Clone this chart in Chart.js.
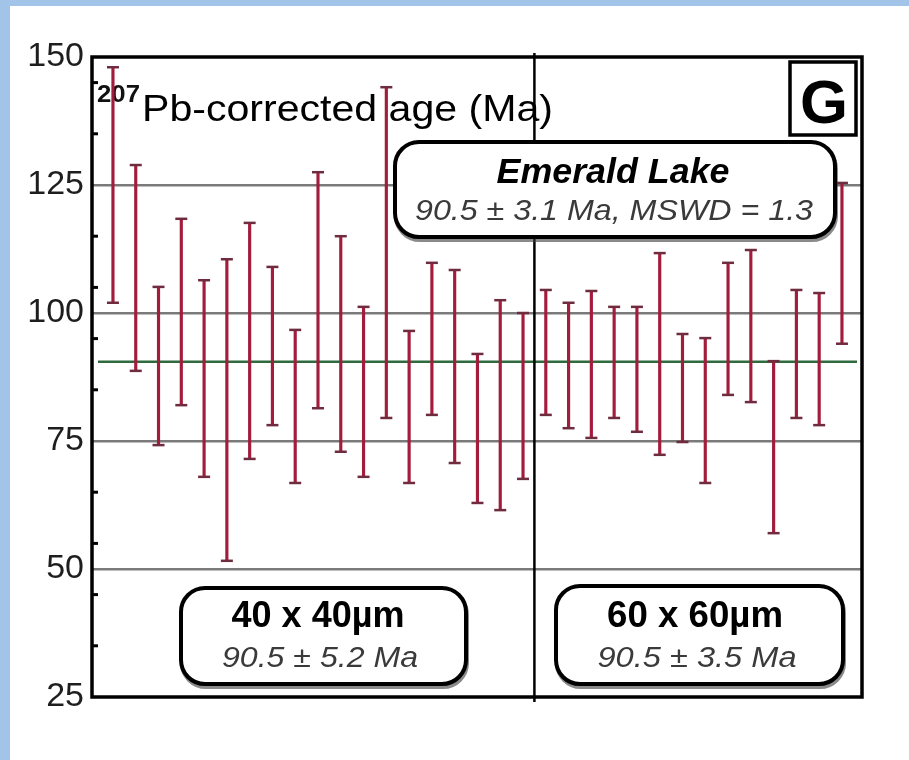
<!DOCTYPE html>
<html>
<head>
<meta charset="utf-8">
<title>207Pb-corrected age - Emerald Lake</title>
<script src="https://cdn.jsdelivr.net/npm/chart.js@4.4.1/dist/chart.umd.min.js"></script>
<style>
  html, body { margin: 0; padding: 0; background: #fff; }
  #age-chart { display: block; }
</style>
</head>
<body>
<canvas id="age-chart" width="909" height="760"></canvas>
<script>
(function() {
  'use strict';

  // Spot number along the x axis
  const spots = [1, 2, 3, 4, 5, 6, 7, 8, 9, 10, 11, 12, 13, 14, 15, 16, 17,
    18, 19, 20, 21, 22, 23, 24, 25, 26, 27, 28, 29, 30, 31, 32, 33];

  // Upper / lower end of each 2-sigma error bar (Ma)
  const ageHigh = [148.0, 128.9, 105.1, 118.4, 106.4, 110.5, 117.6, 109.0, 96.7,
    127.5, 115.0, 101.2, 144.1, 96.5, 109.8, 108.4, 92.0, 102.5, 100.0,
    104.5, 102.0, 104.3, 101.2, 101.2, 111.7, 95.9, 95.1, 109.8, 112.3,
    90.6, 104.5, 103.9, 125.4];
  const ageLow = [102.0, 88.7, 74.2, 82.0, 68.0, 51.6, 71.5, 78.1, 66.8,
    81.4, 72.9, 68.0, 79.5, 66.8, 80.1, 70.7, 62.9, 61.5, 67.6,
    80.1, 77.5, 75.6, 79.5, 76.8, 72.3, 74.8, 66.8, 84.0, 82.6,
    57.0, 79.5, 78.1, 94.0];

  // Axis ticks
  const yTicks = [25, 50, 75, 100, 125, 150];
  const gridValues = [50, 75, 100, 125];
  const minorTicks = [35, 45, 55, 65, 85, 95, 105, 115, 135, 145];

  // Weighted mean and the split between the two spot sizes
  const meanAge = 90.5;
  const splitAt = 19.5;

  // Text
  const titleSup = '207';
  const titleText = 'Pb-corrected age (Ma)';
  const panelLetter = 'G';
  const siteName = 'Emerald Lake';
  const siteAge = '90.5 \u00b1 3.1 Ma, MSWD = 1.3';
  const smallSpot = '40 x 40\u00b5m';
  const smallAge = '90.5 \u00b1 5.2 Ma';
  const largeSpot = '60 x 60\u00b5m';
  const largeAge = '90.5 \u00b1 3.5 Ma';

  const FONT = '"Liberation Sans", Arial, Helvetica, sans-serif';
  const barColor = '#a31c3c';
  const capColor = '#6e2c3e';

  /**
   * Draw text stretched/squeezed to a given width
   */
  function fitText(ctx, text, x, y, font, width, align, color) {
    ctx.save();
    ctx.font = font;
    ctx.fillStyle = color || '#000';
    ctx.textAlign = align || 'center';
    ctx.textBaseline = 'alphabetic';
    const w = ctx.measureText(text).width;
    ctx.translate(x, y);
    ctx.scale(width / w, 1);
    ctx.fillText(text, 0, 0);
    ctx.restore();
  }

  function roundBox(ctx, x, y, w, h, r) {
    ctx.save();
    // soft shadow along the bottom edge
    ctx.beginPath();
    ctx.roundRect(x + 1, y + 3, w, h, r);
    ctx.strokeStyle = 'rgba(60, 60, 60, 0.6)';
    ctx.lineWidth = 4;
    ctx.stroke();
    ctx.beginPath();
    ctx.roundRect(x, y, w, h, r);
    ctx.fillStyle = '#fff';
    ctx.fill();
    ctx.strokeStyle = '#000';
    ctx.lineWidth = 4;
    ctx.stroke();
    ctx.restore();
  }

  const decorPlugin = {
    id: 'decor',
    beforeDraw(chart) {
      const ctx = chart.ctx;
      ctx.save();
      ctx.fillStyle = '#fff';
      ctx.fillRect(0, 0, chart.width, chart.height);
      ctx.fillStyle = '#a2c4e9';
      ctx.fillRect(0, 0, 10, chart.height);
      ctx.fillRect(0, 0, chart.width, 6);
      ctx.restore();
    },
    beforeDatasetsDraw(chart) {
      const ctx = chart.ctx;
      const area = chart.chartArea;
      const xs = chart.scales.x;
      const ys = chart.scales.y;
      ctx.save();

      // minor ticks on the inside of the left axis
      ctx.strokeStyle = '#000';
      ctx.lineWidth = 3;
      minorTicks.forEach(v => {
        const py = ys.getPixelForValue(v);
        ctx.beginPath();
        ctx.moveTo(area.left, py);
        ctx.lineTo(area.left + 6, py);
        ctx.stroke();
      });

      // weighted mean
      const my = ys.getPixelForValue(meanAge);
      ctx.strokeStyle = '#2f6a3f';
      ctx.lineWidth = 2.5;
      ctx.beginPath();
      ctx.moveTo(area.left + 6, my);
      ctx.lineTo(area.right - 5, my);
      ctx.stroke();

      // split between spot sizes
      const sx = xs.getPixelForValue(splitAt);
      ctx.strokeStyle = '#000';
      ctx.lineWidth = 2.5;
      ctx.beginPath();
      ctx.moveTo(sx, area.top - 4);
      ctx.lineTo(sx, area.bottom + 5);
      ctx.stroke();

      // axis title inside the plot
      fitText(ctx, titleSup, 97, 102, 'bold 23px ' + FONT, 43, 'left', '#111');
      fitText(ctx, titleText, 142, 121, '37px ' + FONT, 411, 'left', '#000');
      ctx.restore();
    },
    afterDatasetsDraw(chart) {
      const ctx = chart.ctx;
      const area = chart.chartArea;
      ctx.save();

      // frame
      ctx.strokeStyle = '#000';
      ctx.lineWidth = 3.5;
      ctx.strokeRect(area.left, area.top, area.right - area.left, area.bottom - area.top);

      // panel letter
      ctx.fillStyle = '#fff';
      ctx.fillRect(790, 62, 66, 73);
      ctx.lineWidth = 3.5;
      ctx.strokeRect(790, 62, 66, 73);
      fitText(ctx, panelLetter, 824, 123, 'bold 62px ' + FONT, 48, 'center', '#000');

      // sample box
      roundBox(ctx, 395, 142, 440, 95, 24);
      fitText(ctx, siteName, 613, 183, 'italic bold 35px ' + FONT, 233, 'center', '#000');
      fitText(ctx, siteAge, 614, 220, 'italic 29px ' + FONT, 398, 'center', '#3a3a3a');

      // spot size boxes
      roundBox(ctx, 181, 588, 285, 96, 24);
      fitText(ctx, smallSpot, 318, 627, 'bold 36px ' + FONT, 173, 'center', '#000');
      fitText(ctx, smallAge, 320, 667, 'italic 29px ' + FONT, 196, 'center', '#3a3a3a');

      roundBox(ctx, 556, 586, 287, 98, 24);
      fitText(ctx, largeSpot, 695, 627, 'bold 36px ' + FONT, 176, 'center', '#000');
      fitText(ctx, largeAge, 697, 667, 'italic 29px ' + FONT, 199, 'center', '#3a3a3a');

      ctx.restore();
    }
  };

  function initAgeChart() {
    const ctx = document.getElementById('age-chart');
    if (!ctx || typeof Chart === 'undefined') return;

    new Chart(ctx, {
      type: 'bar',
      data: {
        datasets: [{
          type: 'bar',
          data: spots.map((s, i) => ({ x: s, y: [ageLow[i], ageHigh[i]] })),
          backgroundColor: barColor,
          borderWidth: 0,
          barThickness: 2.5,
          order: 2
        }, {
          type: 'line',
          data: spots.map((s, i) => ({ x: s, y: ageHigh[i] })),
          showLine: false,
          pointStyle: 'line',
          pointRadius: 6,
          pointBorderWidth: 2.5,
          pointBorderColor: capColor,
          pointBackgroundColor: capColor,
          order: 1
        }, {
          type: 'line',
          data: spots.map((s, i) => ({ x: s, y: ageLow[i] })),
          showLine: false,
          pointStyle: 'line',
          pointRadius: 6,
          pointBorderWidth: 2.5,
          pointBorderColor: capColor,
          pointBackgroundColor: capColor,
          order: 1
        }]
      },
      options: {
        responsive: false,
        animation: false,
        devicePixelRatio: 1,
        layout: {
          padding: { left: 0, top: 57, right: 47, bottom: 63 }
        },
        plugins: {
          legend: { display: false },
          tooltip: { enabled: false }
        },
        scales: {
          x: {
            type: 'linear',
            min: 0.08,
            max: 33.88,
            offset: false,
            grid: { offset: false },
            display: false
          },
          y: {
            min: 25,
            max: 150,
            afterBuildTicks: scale => {
              scale.ticks = yTicks.map(v => ({ value: v }));
            },
            afterFit: scale => {
              scale.width = 92;
            },
            border: { display: false },
            grid: {
              drawTicks: false,
              tickLength: 0,
              lineWidth: 2.5,
              color: c => gridValues.includes(c.tick.value) ? '#7a7a7a' : 'rgba(0,0,0,0)'
            },
            ticks: {
              padding: 8,
              color: '#1e1e1e',
              font: { family: FONT, size: 34 }
            }
          }
        }
      },
      plugins: [decorPlugin]
    });
  }

  initAgeChart();
})();
</script>
</body>
</html>
